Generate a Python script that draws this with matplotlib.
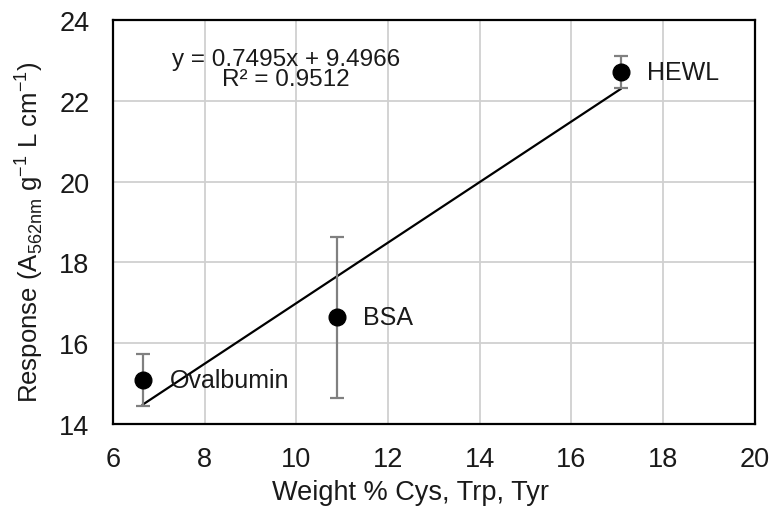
import matplotlib.pyplot as plt
import numpy as np

plt.rcParams['font.family'] = ['Liberation Sans', 'DejaVu Sans']

proteins = ['Ovalbumin', 'BSA', 'HEWL']
weight_pct = [6.65, 10.88, 17.07]
response = [15.09, 16.64, 22.71]
resp_err = [0.64, 2.0, 0.40]

slope = 0.7495
intercept = 9.4966
r2 = 0.9512

fig = plt.figure(figsize=(7.75, 5.1), dpi=100)
ax = fig.add_axes([0.1458, 0.1667, 0.8282, 0.7921])

# trendline over the data range
xs = np.array([min(weight_pct), max(weight_pct)])
ax.plot(xs, slope * xs + intercept, color='black', lw=1.6, zorder=3)

ax.errorbar(weight_pct, response, yerr=resp_err, fmt='o', color='black',
            ms=12, ecolor='#808080', elinewidth=1.6, capsize=5, capthick=1.6,
            zorder=4)

for name, xv, yv in zip(proteins, weight_pct, response):
    ax.text(xv + 0.58, yv, name, fontsize=18, va='center', ha='left',
            color='#1a1a1a', zorder=5)

ax.text(9.77, 23.03, 'y = %.4fx + %.4f' % (slope, intercept),
        fontsize=17.5, ha='center', va='center', color='#1a1a1a')
ax.text(9.77, 22.53, 'R\u00b2 = %.4f' % r2,
        fontsize=17.5, ha='center', va='center', color='#1a1a1a')

ax.set_xlim(6, 20)
ax.set_ylim(14, 24)
ax.set_xticks(np.arange(6, 21, 2))
ax.set_yticks(np.arange(14, 25, 2))
ax.grid(True, color='#d0d0d0', lw=1.3)
ax.set_axisbelow(True)
ax.tick_params(length=0, labelsize=19.5, colors='#1a1a1a')
ax.tick_params(axis='x', pad=16)
ax.tick_params(axis='y', pad=17)
for sp in ax.spines.values():
    sp.set_linewidth(1.6)
    sp.set_color('black')

ax.set_xlabel('Weight % Cys, Trp, Tyr', fontsize=19.5, color='#1a1a1a')
ax.set_ylabel(r'Response (A$_{\mathregular{562nm}}$ g$^{\mathregular{-1}}$ L cm$^{\mathregular{-1}}$)',
              fontsize=18.5, color='#1a1a1a')
ax.xaxis.set_label_coords(0.463, -0.135)
ax.yaxis.set_label_coords(-0.106, 0.478)

fig.savefig('out.png', dpi=100)
